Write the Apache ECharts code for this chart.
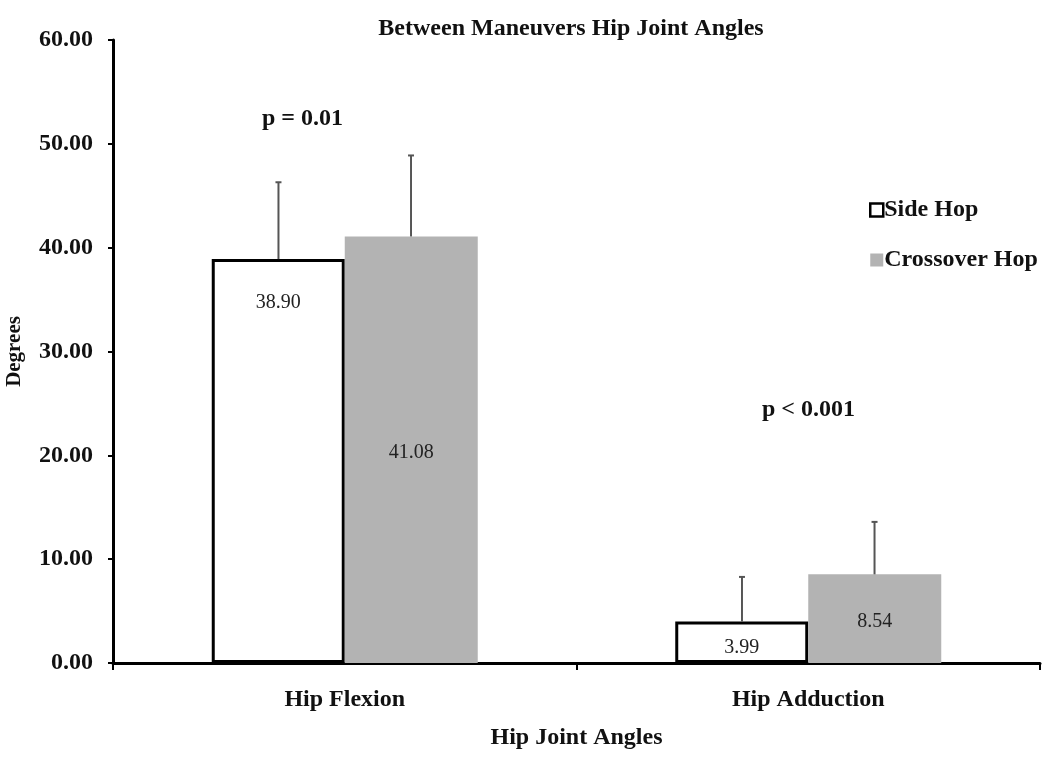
<!DOCTYPE html>
<html><head><meta charset="utf-8">
<script src="https://cdn.jsdelivr.net/npm/echarts@6/dist/echarts.min.js"></script>
<style>html,body{margin:0;padding:0;background:#fff}#c{width:1050px;height:757px}</style>
</head><body><div id="c"></div>
<script>
const categories = ['Hip Flexion', 'Hip Adduction'];
const seriesNames = ['Side Hop', 'Crossover Hop'];
const sideHop = [38.90, 3.99];
const crossoverHop = [41.08, 8.54];
const sideHopSD = [7.4, 4.3];
const crossoverHopSD = [7.8, 5.05];
const yTicks = [0, 10, 20, 30, 40, 50, 60];
const pLabels = ['p = 0.01', 'p < 0.001'];

const FONT = '"Liberation Serif", "Times New Roman", serif';
const chart = echarts.init(document.getElementById('c'));

function errorSeries(means, sds, side) {
  return {
    type: 'custom',
    z: 10,
    silent: true,
    data: means.map((m, i) => [i, m, m + sds[i]]),
    renderItem: function (params, api) {
      const base = api.coord([api.value(0), api.value(1)]);
      const top = api.coord([api.value(0), api.value(2)]);
      const bw = api.size([1, 0])[0];
      const barW = bw * 0.286;
      const x = base[0] + side * barW / 2;
      const style = { stroke: '#555', lineWidth: 2 };
      return {
        type: 'group',
        children: [
          { type: 'line', shape: { x1: x, y1: base[1], x2: x, y2: top[1] }, style: style },
          { type: 'line', shape: { x1: x - 3, y1: top[1], x2: x + 3, y2: top[1] }, style: style }
        ]
      };
    }
  };
}

const labelStyle = { show: true, fontFamily: FONT, fontSize: 20, color: '#222', formatter: p => p.value.toFixed(2) };

chart.setOption({
  animation: false,
  title: {
    text: 'Between Maneuvers Hip Joint Angles',
    left: 566, top: 12, textAlign: 'center',
    textStyle: { fontFamily: FONT, fontWeight: 'bold', fontSize: 24, color: '#111' }
  },
  legend: {
    orient: 'vertical',
    left: 864, top: 193,
    itemGap: 26,
    itemWidth: 13, itemHeight: 13,
    textStyle: { fontFamily: FONT, fontWeight: 'bold', fontSize: 24, color: '#111', padding: [0, 0, 0, -4] },
    data: [
      { name: seriesNames[0], icon: 'rect', itemStyle: { color: '#fff', borderColor: '#000', borderWidth: 2.5 } },
      { name: seriesNames[1], icon: 'rect', itemStyle: { color: '#b3b3b3', borderWidth: 0 } }
    ]
  },
  grid: { left: 113, right: 10, top: 40, bottom: 94, outerBoundsMode: 'none' },
  xAxis: {
    type: 'category',
    data: categories,
    name: 'Hip Joint Angles',
    nameLocation: 'middle',
    nameGap: 63,
    nameTextStyle: { fontFamily: FONT, fontWeight: 'bold', fontSize: 24, color: '#111' },
    axisLine: { lineStyle: { color: '#000', width: 3 } },
    axisTick: { show: true, length: 7, lineStyle: { color: '#000', width: 2 } },
    axisLabel: { margin: 25, fontFamily: FONT, fontWeight: 'bold', fontSize: 24, color: '#111' }
  },
  yAxis: {
    type: 'value',
    min: 0, max: 60, interval: 10,
    name: 'Degrees',
    nameLocation: 'middle',
    nameGap: 88,
    nameTextStyle: { fontFamily: FONT, fontWeight: 'bold', fontSize: 21, color: '#111' },
    axisLine: { show: true, lineStyle: { color: '#000', width: 3 } },
    axisTick: { show: true, length: 5, lineStyle: { color: '#000', width: 2 } },
    splitLine: { show: false },
    axisLabel: {
      margin: 20, fontFamily: FONT, fontWeight: 'bold', fontSize: 24, color: '#111',
      formatter: v => yTicks.includes(v) ? v.toFixed(2) : ''
    }
  },
  series: [
    {
      name: seriesNames[0], type: 'bar', barWidth: 133, barGap: '0%',
      itemStyle: { color: '#fff', borderColor: '#000', borderWidth: 3 },
      data: [
        { value: sideHop[0], label: { ...labelStyle, position: 'insideTop', distance: 34 } },
        { value: sideHop[1], label: { ...labelStyle, position: 'inside', offset: [0, 5] } }
      ]
    },
    {
      name: seriesNames[1], type: 'bar', barWidth: 133, barGap: '0%',
      itemStyle: { color: '#b3b3b3' },
      data: [
        { value: crossoverHop[0], label: { ...labelStyle, position: 'inside', offset: [0, 3] } },
        { value: crossoverHop[1], label: { ...labelStyle, position: 'inside', offset: [0, 3] } }
      ]
    },
    errorSeries(sideHop, sideHopSD, -1),
    errorSeries(crossoverHop, crossoverHopSD, 1)
  ],
  graphic: [
    { type: 'text', x: 262, y: 119, style: { text: pLabels[0], font: 'bold 24px ' + FONT, fill: '#111', textVerticalAlign: 'middle' } },
    { type: 'text', x: 762, y: 410, style: { text: pLabels[1], font: 'bold 24px ' + FONT, fill: '#111', textVerticalAlign: 'middle' } }
  ]
});
</script>
</body></html>
